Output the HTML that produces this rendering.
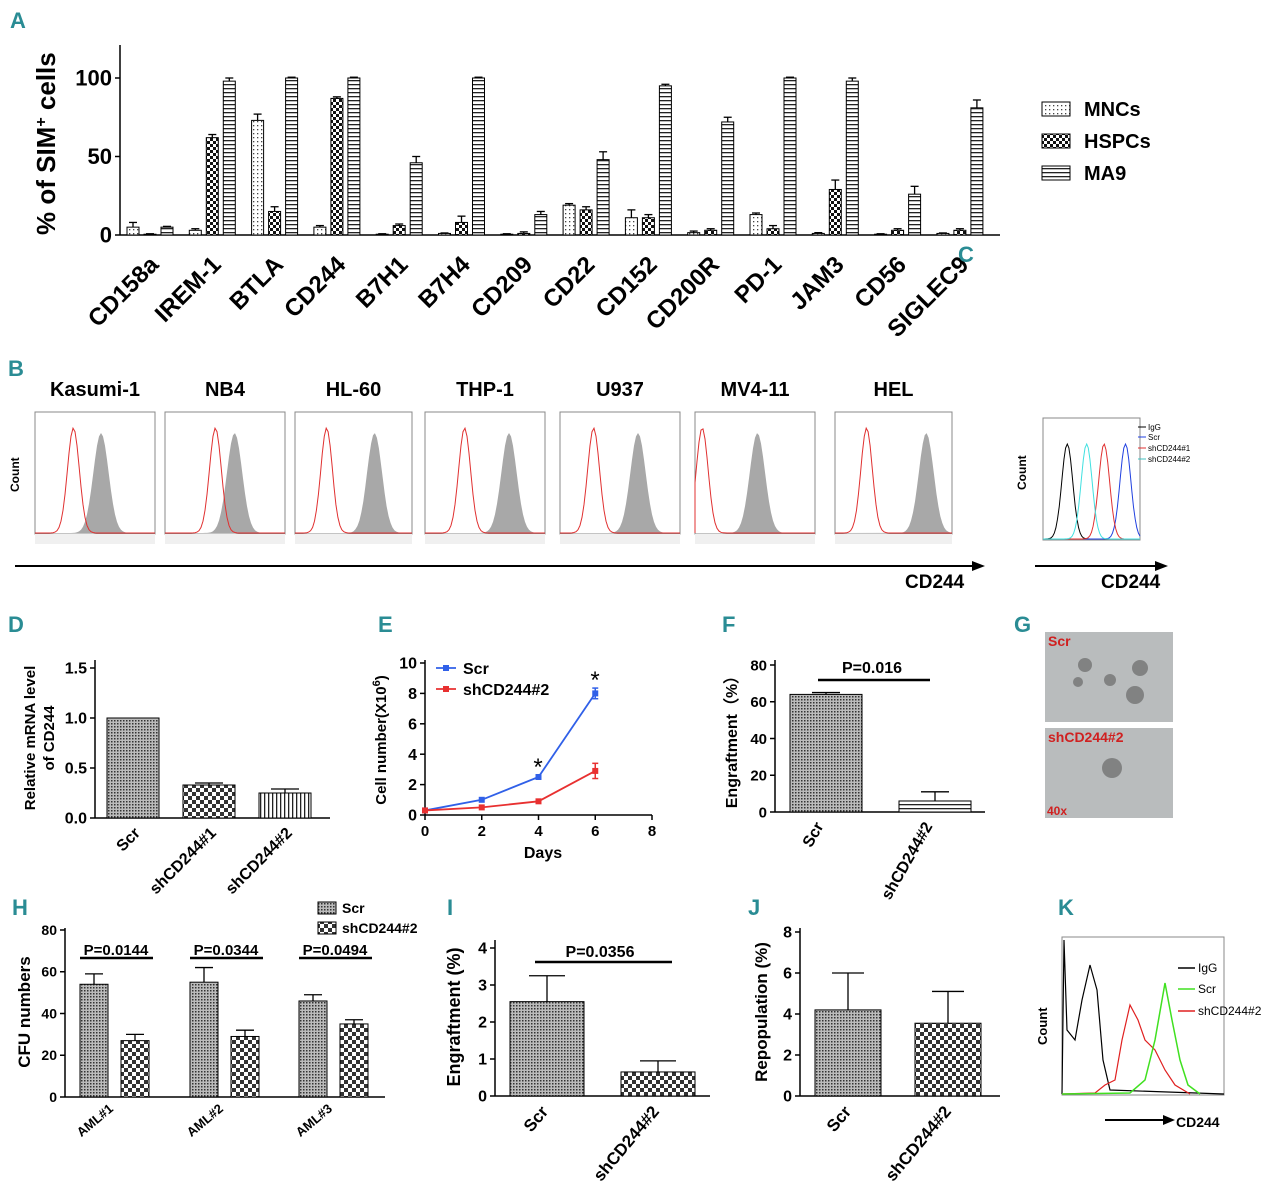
<!DOCTYPE html>
<html><head><meta charset="utf-8">
<style>
html,body{margin:0;padding:0;background:#fff;}
svg{display:block;font-family:"Liberation Sans",sans-serif;}
.lt{fill:#2a8c94;font-weight:bold;font-size:22px;}
.b{font-weight:bold;}
.nar{font-family:"Liberation Sans Narrow","Liberation Sans",sans-serif;}
</style></head>
<body>
<svg id="fig" width="1280" height="1198" viewBox="0 0 1280 1198" xmlns="http://www.w3.org/2000/svg">
<defs>
<pattern id="pDot" width="4" height="4" patternUnits="userSpaceOnUse"><rect width="4" height="4" fill="#fff"/><rect x="1" y="1" width="1.3" height="1.3" fill="#444"/></pattern>
<pattern id="pChk" width="6" height="6" patternUnits="userSpaceOnUse"><rect width="6" height="6" fill="#fff"/><rect width="3" height="3" fill="#111"/><rect x="3" y="3" width="3" height="3" fill="#111"/></pattern>
<pattern id="pHor" width="4" height="4" patternUnits="userSpaceOnUse"><rect width="4" height="4" fill="#fff"/><rect y="0" width="4" height="1.3" fill="#222"/></pattern>
<pattern id="pVer" width="4" height="4" patternUnits="userSpaceOnUse"><rect width="4" height="4" fill="#fff"/><rect width="1.3" height="4" fill="#222"/></pattern>
<pattern id="pFine" width="3" height="3" patternUnits="userSpaceOnUse"><rect width="3" height="3" fill="#bbb"/><rect width="1.5" height="1.5" fill="#333"/></pattern>
<pattern id="pChk2" width="8" height="8" patternUnits="userSpaceOnUse"><rect width="8" height="8" fill="#fff"/><rect width="4" height="4" fill="#333"/><rect x="4" y="4" width="4" height="4" fill="#333"/></pattern>
</defs>
<g id="root"></g>
</svg>
<script>
// ---------- DATA ----------
const aCats=["CD158a","IREM-1","BTLA","CD244","B7H1","B7H4","CD209","CD22","CD152","CD200R","PD-1","JAM3","CD56","SIGLEC9"];
const aMNC=[5,3,73,5,0.5,1,0.5,19,11,1.5,13,1,0.5,1];
const aMNCerr=[3,1,4,1,0.3,0.3,0.3,1,5,1,1,0.5,0.3,0.3];
const aHSPC=[0.5,62,15,87,6,8,1,16,11,3,4,29,3,3];
const aHSPCerr=[0.3,2,3,1,1,4,1,2,2,1,2,6,1,1];
const aMA9=[5,98,100,100,46,100,13,48,95,72,100,98,26,81];
const aMA9err=[0.5,2,0.5,0.5,4,0.5,2,5,1,3,0.5,2,5,5];
const aTicks=[0,50,100];
const dCats=["Scr","shCD244#1","shCD244#2"];
const dVals=[1.0,0.33,0.25];
const dErr=[0,0.02,0.04];
const dTicks=[0,0.5,1.0,1.5];
const eDays=[0,2,4,6];
const eScr=[0.3,1.0,2.5,8.0];
const eScrErr=[0,0.1,0.1,0.35];
const eSh=[0.3,0.5,0.9,2.9];
const eShErr=[0,0.05,0.1,0.5];
const eYTicks=[0,2,4,6,8,10];
const eXTicks=[0,2,4,6,8];
const fCats=["Scr","shCD244#2"];
const fVals=[64,6];
const fErr=[1,5];
const fTicks=[0,20,40,60,80];
const hCats=["AML#1","AML#2","AML#3"];
const hScr=[54,55,46];
const hScrErr=[5,7,3];
const hSh=[27,29,35];
const hShErr=[3,3,2];
const hP=["P=0.0144","P=0.0344","P=0.0494"];
const hTicks=[0,20,40,60,80];
const iVals=[2.55,0.65];
const iErr=[0.7,0.3];
const iTicks=[0,1,2,3,4];
const jVals=[4.2,3.55];
const jErr=[1.8,1.55];
const jTicks=[0,2,4,6,8];
const bLines=["Kasumi-1","NB4","HL-60","THP-1","U937","MV4-11","HEL"];
const bRedPeak=[0.32,0.42,0.27,0.33,0.28,0.06,0.27];
const bGrayPeak=[0.55,0.58,0.68,0.7,0.65,0.52,0.78];

// ---------- HELPERS ----------
const NS="http://www.w3.org/2000/svg";
const root=document.getElementById('root');
function mk(tag,attrs,parent){const e=document.createElementNS(NS,tag);for(const k in attrs)e.setAttribute(k,attrs[k]);(parent||root).appendChild(e);return e;}
function txt(s,x,y,size,extra){const e=mk('text',Object.assign({x:x,y:y,'font-size':size},extra||{}));e.textContent=s;return e;}
function lin(x1,y1,x2,y2,w,c){return mk('line',{x1:x1,y1:y1,x2:x2,y2:y2,stroke:c||'#000','stroke-width':w||1.5});}
function scale(d0,d1,r0,r1){return v=>r0+(v-d0)/(d1-d0)*(r1-r0);}
function errBar(x,y,yTop,w){let l=lin(x,y,x,yTop,1.3);let c=lin(x-w,yTop,x+w,yTop,1.3);}
function yAxis(x,yS,ticks,top,fs,fmt){let a=lin(x,yS(ticks[0]),x,top,1.5);
 ticks.forEach(t=>{lin(x-5,yS(t),x,yS(t),1.5);let e=txt(fmt?fmt(t):String(t),x-8,yS(t)+fs*0.35,fs,{'text-anchor':'end','font-weight':'bold'});});}
function letter(s,x,y){let e=txt(s,x,y,22,{class:'lt'});}
function rotLabel(s,x,y,fs,ang,cls){let e=txt(s,x,y,fs,{'text-anchor':'end','font-weight':'bold',transform:'rotate('+ang+' '+x+' '+y+')'});if(cls)e.setAttribute('class',cls);return e;}

// ---------- PANEL A ----------
letter('A',10,28);
const aY=scale(0,100,235,78);
yAxis(120,aY,aTicks,45,22);
let ax=lin(120,235,1000,235,1.5);
let ayt=txt('% of SIM',0,0,26,{class:'b',transform:'translate(55,235) rotate(-90)'});
let sup=mk('tspan',{dy:-9,'font-size':16});sup.textContent='+';ayt.appendChild(sup);let sp2=mk('tspan',{dy:9});sp2.textContent=' cells';ayt.appendChild(sp2);
const aStep=62.3,aX0=150;
aCats.forEach((c,i)=>{const cx=aX0+i*aStep;
 [[aMNC,aMNCerr,'url(#pDot)',-17],[aHSPC,aHSPCerr,'url(#pChk)',0],[aMA9,aMA9err,'url(#pHor)',17]].forEach(([v,er,f,off])=>{
  const x=cx+off-6;const y=aY(v[i]);
  let r=mk('rect',{x:x,y:y,width:12,height:235-y,fill:f,stroke:'#000','stroke-width':1});
  
  
  errBar(x+6,y,aY(v[i]+er[i]),4);});
 rotLabel(c,cx+10,266,24,-45,'b nar');
});
[['MNCs','url(#pDot)',112],['HSPCs','url(#pChk)',144],['MA9','url(#pHor)',176]].forEach(([n,f,y])=>{
 let r=mk('rect',{x:1042,y:y-10,width:28,height:14,fill:f,stroke:'#000'});
 let t=txt(n,1084,y+4,20,{class:'b'});});
letter('C',958,262);

// ---------- PANEL B ----------
letter('B',8,376);
const bBox=[[35,155],[165,285],[295,412],[425,545],[560,680],[695,815],[835,952]];
function histPath(x0,w,yb,h,peak,sd){let d='M'+x0+' '+yb;for(let k=0;k<=60;k++){const f=k/60;const v=Math.exp(-Math.pow((f-peak)/sd,2));d+=' L'+(x0+f*w).toFixed(1)+' '+(yb-v*h).toFixed(1);}return d;}
bLines.forEach((n,i)=>{const [x0,x1]=bBox[i];const w=x1-x0;
 let t=txt(n,(x0+x1)/2,396,20,{class:'b','text-anchor':'middle'});
 let bx=mk('rect',{x:x0,y:412,width:w,height:122,fill:'#fff',stroke:'#888','stroke-width':1});
 let g=mk('path',{d:histPath(x0,w,533,100,bGrayPeak[i],0.09)+' Z',fill:'#a8a8a8'});
 let r=mk('path',{d:histPath(x0,w,533,105,bRedPeak[i],0.07),fill:'none',stroke:'#e03030','stroke-width':1});
 let bt=mk('rect',{x:x0,y:534,width:w,height:10,fill:'#f0f0f0'});
});
let bc=txt('Count',0,0,12,{class:'b',transform:'translate(19,492) rotate(-90)'});
let ba=lin(15,566,975,566,2);
mk('path',{d:'M985 566 L972 561 L972 571 Z',fill:'#000'});
let bct=txt('CD244',905,588,19,{class:'b'});

// ---------- PANEL C ----------
let cbx=mk('rect',{x:1043,y:418,width:97,height:122,fill:'#fff',stroke:'#888'});
[[0.25,'#000'],[0.85,'#2040e0'],[0.63,'#e03030'],[0.45,'#40e0e0']].forEach(([p,c])=>{let h=mk('path',{d:histPath(1043,97,539,95,p,0.08),fill:'none',stroke:c,'stroke-width':1});});
[['IgG','#000',430],['Scr','#2040e0',440],['shCD244#1','#e03030',451],['shCD244#2','#40c0c0',462]].forEach(([n,c,y])=>{lin(1138,y-3,1146,y-3,1,c);let t=txt(n,1148,y,8,{});});
let cc=txt('Count',0,0,12,{class:'b',transform:'translate(1026,490) rotate(-90)'});
lin(1035,566,1158,566,2);mk('path',{d:'M1168 566 L1155 561 L1155 571 Z',fill:'#000'});
let cct=txt('CD244',1101,588,19,{class:'b'});

// ---------- PANEL D ----------
letter('D',8,632);
const dY=scale(0,1.5,818,668);
yAxis(95,dY,dTicks,660,16,t=>t.toFixed(1));
lin(95,818,330,818,1.5);
const dX=[133,209,285];const dFill=['url(#pFine)','url(#pChk2)','url(#pVer)'];
dCats.forEach((c,i)=>{const y=dY(dVals[i]);let r=mk('rect',{x:dX[i]-26,y:y,width:52,height:818-y,fill:dFill[i],stroke:'#000'});
 if(dErr[i])errBar(dX[i],y,dY(dVals[i]+dErr[i]),14);rotLabel(c,dX[i]+8,834,16,-45);});
let dt=txt('Relative mRNA level',0,0,15,{class:'b','text-anchor':'middle',transform:'translate(35,738) rotate(-90)'});
let dt2=txt('of CD244',0,0,15,{class:'b','text-anchor':'middle',transform:'translate(54,738) rotate(-90)'});

// ---------- PANEL E ----------
letter('E',378,632);
const eY=scale(0,10,815,663),eX=scale(0,8,425,652);
yAxis(425,eY,eYTicks,660,16);
let exa=lin(425,815,652,815,1.5);
eXTicks.forEach(t=>{lin(eX(t),815,eX(t),820,1.5);let e=txt(String(t),eX(t),836,15,{class:'b','text-anchor':'middle'});});
let ext=txt('Days',543,858,16,{class:'b','text-anchor':'middle'});
let eyt=txt('Cell number(X10',0,0,15,{class:'b','text-anchor':'middle',transform:'translate(386,740) rotate(-90)'});
let es=mk('tspan',{dy:-6,'font-size':11},eyt);es.textContent='6';let es2=mk('tspan',{dy:6},eyt);es2.textContent=')';
[[eScr,eScrErr,'#3060e8','scr'],[eSh,eShErr,'#e83030','shcd244']].forEach(([v,er,c,n])=>{
 let pl=mk('polyline',{points:eDays.map((d,i)=>eX(d)+','+eY(v[i])).join(' '),fill:'none',stroke:c,'stroke-width':1.8});
 eDays.forEach((d,i)=>{let p=mk('rect',{x:eX(d)-3,y:eY(v[i])-3,width:6,height:6,fill:c});
  if(er[i]>0.15){lin(eX(d),eY(v[i]-er[i]),eX(d),eY(v[i]+er[i]),1.5,c);lin(eX(d)-3,eY(v[i]+er[i]),eX(d)+3,eY(v[i]+er[i]),1.5,c);lin(eX(d)-3,eY(v[i]-er[i]),eX(d)+3,eY(v[i]-er[i]),1.5,c);}});});
[['Scr','#3060e8',668],['shCD244#2','#e83030',689]].forEach(([n,c,y])=>{lin(436,y,456,y,1.8,c);mk('rect',{x:443,y:y-3,width:6,height:6,fill:c});let t=txt(n,463,y+6,16,{class:'b'});});
let s1=txt('*',538,775,24,{'text-anchor':'middle'});
let s2=txt('*',595,688,24,{'text-anchor':'middle'});

// ---------- PANEL F ----------
letter('F',722,632);
const fY=scale(0,80,812,665);
yAxis(775,fY,fTicks,660,15);
lin(775,812,985,812,1.5);
const fX=[826,935];const fFill=['url(#pFine)','url(#pHor)'];
fCats.forEach((c,i)=>{const y=fY(fVals[i]);let r=mk('rect',{x:fX[i]-36,y:y,width:72,height:812-y,fill:fFill[i],stroke:'#000'});
 errBar(fX[i],y,fY(fVals[i]+fErr[i]),14);rotLabel(c,fX[i]-2,826,16,-60);});
lin(818,680,930,680,2.5);let fp=txt('P=0.016',872,673,16,{class:'b','text-anchor':'middle'});
let fyt=txt('Engraftment（%）',0,0,16,{class:'b','text-anchor':'middle',transform:'translate(737,738) rotate(-90)'});

// ---------- PANEL G ----------
letter('G',1014,632);
[[632,'Scr'],[728,'shCD244#2']].forEach(([y,n],k)=>{let r=mk('rect',{x:1045,y:y,width:128,height:90,fill:'#b9bcbd'});
 let t=txt(n,1048,y+14,14,{class:'b',fill:'#d02020'});});
[[1085,665,7],[1110,680,6],[1140,668,8],[1135,695,9],[1078,682,5],[1112,768,10]].forEach(([x,y,r])=>{let c=mk('circle',{cx:x,cy:y,r:r,fill:'#6a6a6a',opacity:0.7});});
let g40=txt('40x',1047,815,12,{class:'b',fill:'#d02020'});

// ---------- PANEL H ----------
letter('H',12,915);
const hY=scale(0,80,1097,930);
yAxis(65,hY,hTicks,928,14);
lin(65,1097,385,1097,1.5);
const hX=[108,218,327];
hCats.forEach((c,i)=>{const cx=hX[i];
 [[hScr,hScrErr,'url(#pFine)',-14],[hSh,hShErr,'url(#pChk2)',27]].forEach(([v,er,f,off])=>{const y=hY(v[i]);let r=mk('rect',{x:cx+off-14,y:y,width:28,height:1097-y,fill:f,stroke:'#000'});errBar(cx+off,y,hY(v[i]+er[i]),9);});
 lin(cx-28,958,cx+45,958,2.5);let p=txt(hP[i],cx+8,955,15,{class:'b','text-anchor':'middle'});
 rotLabel(c,cx+6,1110,13,-40);});
let hyt=txt('CFU numbers',0,0,17,{class:'b','text-anchor':'middle',transform:'translate(30,1012) rotate(-90)'});
[['Scr','url(#pFine)',909],['shCD244#2','url(#pChk2)',929]].forEach(([n,f,y])=>{mk('rect',{x:318,y:y-7,width:18,height:12,fill:f,stroke:'#000'});let t=txt(n,342,y+4,14,{class:'b'});});

// ---------- PANEL I ----------
letter('I',447,915);
const iY=scale(0,4,1096,948);
yAxis(495,iY,iTicks,940,16);
lin(495,1096,710,1096,1.5);
const iX=[547,658];const iFill=['url(#pFine)','url(#pChk2)'];const ic=["Scr","shCD244#2"];
iVals.forEach((v,i)=>{const y=iY(v);let r=mk('rect',{x:iX[i]-37,y:y,width:74,height:1096-y,fill:iFill[i],stroke:'#000'});errBar(iX[i],y,iY(v+iErr[i]),18);rotLabel(ic[i],iX[i]+2,1112,17,-50);});
lin(535,962,672,962,2.5);let ip=txt('P=0.0356',600,957,16,{class:'b','text-anchor':'middle'});
let iyt=txt('Engraftment (%)',0,0,18,{class:'b','text-anchor':'middle',transform:'translate(460,1017) rotate(-90)'});

// ---------- PANEL J ----------
letter('J',748,915);
const jY=scale(0,8,1096,932);
yAxis(800,jY,jTicks,928,16);
lin(800,1096,1000,1096,1.5);
const jX=[848,948];
jVals.forEach((v,i)=>{const y=jY(v);let r=mk('rect',{x:jX[i]-33,y:y,width:66,height:1096-y,fill:iFill[i],stroke:'#000'});errBar(jX[i],y,jY(v+jErr[i]),16);rotLabel(ic[i],jX[i]+4,1112,17,-50);});
let jyt=txt('Repopulation (%)',0,0,17,{class:'b','text-anchor':'middle',transform:'translate(767,1012) rotate(-90)'});

// ---------- PANEL K ----------
letter('K',1058,915);
let kb=mk('rect',{x:1062,y:937,width:162,height:158,fill:'#fff',stroke:'#888'});
let kg=mk('path',{d:'M1062 1094 L1064 940 L1067 1030 L1075 1040 L1082 1000 L1090 965 L1097 990 L1103 1060 L1110 1090 L1224 1094',fill:'none',stroke:'#000','stroke-width':1.2});
let kr=mk('path',{d:'M1062 1094 L1095 1093 L1105 1085 L1115 1080 L1122 1040 L1130 1005 L1138 1020 L1145 1040 L1155 1050 L1165 1070 L1175 1085 L1190 1094',fill:'none',stroke:'#e02020','stroke-width':1.2});
let kgr=mk('path',{d:'M1062 1094 L1130 1093 L1145 1080 L1155 1040 L1165 983 L1172 1020 L1180 1060 L1188 1085 L1200 1094',fill:'none',stroke:'#40e020','stroke-width':1.5});
[['IgG','#000',972],['Scr','#40e020',993],['shCD244#2','#e02020',1015]].forEach(([n,c,y])=>{lin(1178,y-4,1195,y-4,1.5,c);let t=txt(n,1198,y,12,{});});
let kc=txt('Count',0,0,13,{class:'b',transform:'translate(1047,1045) rotate(-90)'});
lin(1105,1120,1165,1120,2);mk('path',{d:'M1175 1120 L1163 1115 L1163 1125 Z',fill:'#000'});
let kt=txt('CD244',1176,1127,14,{class:'b'});
</script>
</body></html>
